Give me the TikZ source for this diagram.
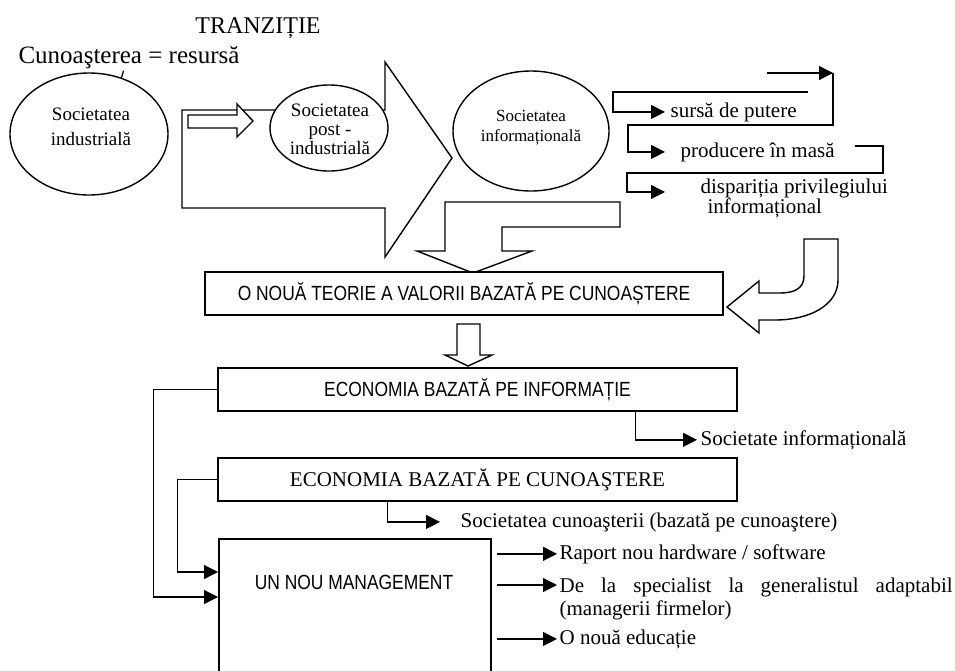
\documentclass[tikz,border=0pt]{standalone}
\usepackage{fontspec}
\setmainfont{Liberation Serif}
\newfontfamily\narrowsf[FakeStretch=0.85]{Liberation Sans}
\usetikzlibrary{arrows.meta,shapes.geometric}
\tolerance=10000
\hyphenpenalty=10000

\begin{document}
\begin{tikzpicture}[x=1pt, y=-1pt, line width=1.3pt, >={Triangle[length=14pt,width=14pt]}]
\tikzstyle{ell} = [ellipse, draw, fill=white, inner sep=0pt, line width=1.4pt]
\tikzstyle{ltxt} = [align=center, inner sep=0pt]
\tikzstyle{box} = [rectangle, draw, fill=white, inner sep=0pt, line width=1.6pt]
\tikzstyle{txt} = [inner sep=2pt, font=\fontsize{21}{23}\selectfont]
\tikzstyle{blk} = [draw, fill=white, line width=1.4pt]
\clip (0,0) rectangle (955,670);
\fill[white] (0,0) rectangle (955,670);

% hollow block arrows
\draw[blk] (182,110) -- (385,110) -- (385,62) -- (452,158) -- (385,257) -- (385,208) -- (182,208) -- cycle;
\draw[blk] (188,115) -- (237,115) -- (237,104) -- (253,121) -- (237,137) -- (237,128) -- (188,128) -- cycle;
\draw[blk] (445,202) -- (620,202) -- (620,227) -- (502,227) -- (502,251) -- (532,251) -- (473,273) -- (417,251) -- (445,251) -- cycle;

% societies
\node[ell, minimum width=158pt, minimum height=122pt] (ind) at (89,134) {};
\node[ltxt, font=\fontsize{19}{25}\selectfont] (indt) at (91,127) {Societatea\\industrială};
\node[ell, minimum width=118pt, minimum height=86pt] (post) at (329,128) {};
\node[ltxt, font=\fontsize{19}{19}\selectfont] (postt) at (330,129) {Societatea\\post -\\industrială};
\node[ell, minimum width=156pt, minimum height=120pt] (soc) at (531,131) {};
\node[ltxt, font=\fontsize{17}{20}\selectfont] (soct) at (531,128) {Societatea\\informațională};

\node[anchor=base, inner sep=0pt, font=\fontsize{24}{27}\selectfont] (tr) at (258,33) {TRANZIȚIE};
\node[anchor=base, inner sep=0pt, font=\fontsize{25}{28}\selectfont] (res) at (129,63) {Cunoaşterea = resursă};
\draw (ind.60) -- ++(2,-7);

% features of the information society
\node[txt, anchor=base west] (sursa) at (668,117) {sursă de putere};
\node[txt, anchor=base west] (prod) at (678,157) {producere în masă};
\node[txt, anchor=base west] (disp) at (698,193) {dispariția privilegiului};
\node[txt, anchor=base west] (dispb) at (705,213) {informațional};
\coordinate (t1) at (767,73);
\coordinate (t2) at (833,73);
\coordinate (s1) at (808,92);
\coordinate (p1) at (855,146);
\draw[->] (t1) -- (t2);
\draw[->] (t2) |- (628,125) |- ([xshift=-13pt]prod.west);
\draw[->] (s1) -- (613,92) |- ([xshift=-3pt]sursa.west);
\draw[->] (p1) -- (883,146) |- (627,173) |- ([xshift=-33pt,yshift=-4pt]disp.west);

% value theory
\node[box, minimum width=518pt, minimum height=43pt, font=\narrowsf\fontsize{20.5}{24}\selectfont] (val) at (464,293.5) {O NOUĂ TEORIE A VALORII BAZATĂ PE CUNOAȘTERE};
\draw[blk] (727,307) -- (759,281) -- (759,293) -- (780,293) .. controls (795,293) and (804,288) .. (804,276) -- (804,239) -- (838,239) -- (838,280) .. controls (838,305) and (810,320) .. (775,320) -- (759,320) -- (759,333) -- cycle;
\draw[blk] (457,324) -- (480,324) -- (480,355) -- (492,355) -- (468,366) -- (445,355) -- (457,355) -- cycle;

% economies
\node[box, minimum width=519pt, minimum height=43pt, font=\narrowsf\fontsize{20.5}{24}\selectfont] (eci) at (477.5,389.5) {ECONOMIA BAZATĂ PE INFORMAȚIE};
\node[box, minimum width=519pt, minimum height=43pt, font=\fontsize{21}{24}\selectfont] (ecc) at (477.5,479.5) {ECONOMIA BAZATĂ PE CUNOAŞTERE};
\node[box, minimum width=272pt, minimum height=150pt, anchor=north west] (mgmt) at (218,538) {};
\node[font=\narrowsf\fontsize{20.5}{24}\selectfont] (mgmtt) at (354,582) {UN NOU MANAGEMENT};

\node[txt, anchor=base west] (socinf) at (698,445) {Societate informațională};
\node[txt, anchor=base west] (soccun) at (458,527) {Societatea cunoaşterii (bazată pe cunoaştere)};
\draw[->] ([xshift=418.5pt]eci.south west) |- ([xshift=-1pt]socinf.west);
\draw[->] ([xshift=170pt]ecc.south west) |- ([xshift=-18pt]soccun.west);
\draw[->] (eci.west) -- ++(-64,0) |- ([yshift=-59pt]mgmt.north west);
\draw[->] (ecc.west) -- ++(-40,0) |- ([yshift=-34pt]mgmt.north west);

% management outputs
\node[txt, anchor=base west] (rap) at (557,559) {Raport nou hardware / software};
\node[txt, anchor=north west, inner sep=0pt, text width=393pt, align=justify] (spec) at (559,577) {De la specialist la generalistul adaptabil (managerii firmelor)};
\node[txt, anchor=base west] (edu) at (557,644) {O nouă educație};
\coordinate (specin) at ([xshift=-2pt,yshift=-8pt]spec.north west);
\draw[->, shorten <=5pt] (mgmt.east |- rap.west) -- (rap.west);
\draw[->, shorten <=5pt] (mgmt.east |- specin) -- (specin);
\draw[->, shorten <=5pt] (mgmt.east |- edu.west) -- (edu.west);
\end{tikzpicture}
\end{document}
